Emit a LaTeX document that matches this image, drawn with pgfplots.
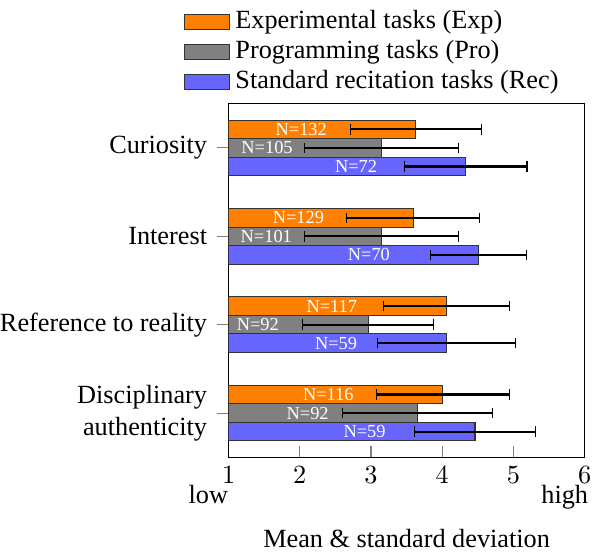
\documentclass[border=0pt]{standalone}
\usepackage{fontspec}
\setmainfont{Liberation Serif}
\usepackage{pgfplots}
\pgfplotsset{compat=1.18}
\usepackage{pgfplotstable}
\definecolor{cexp}{RGB}{255,128,0}
\definecolor{cpro}{RGB}{128,128,128}
\definecolor{crec}{RGB}{102,102,255}
% y: Curiosity=3, Interest=2, Reference to reality=1, Disciplinary authenticity=0
\pgfplotstableread{
y m s
3.21 3.63 0.92
2.21 3.59 0.93
1.21 4.06 0.88
0.21 4.01 0.93
}\exptab
\pgfplotstableread{
y m s
3 3.15 1.08
2 3.15 1.08
1 2.96 0.92
0 3.65 1.05
}\protab
\pgfplotstableread{
y m s
2.79 4.33 0.86
1.79 4.51 0.67
0.79 4.06 0.97
-0.21 4.46 0.85
}\rectab
\begin{document}
\begin{tikzpicture}
\begin{axis}[
  scale only axis,
  width=135.6pt, height=134.6pt,
  xmin=1, xmax=6, ymin=-0.5, ymax=3.5,
  xtick={1,2,3,4,5,6},
  ytick={0,1,2,3},
  yticklabels={{Disciplinary\\authenticity},Reference to reality,Interest,Curiosity},
  yticklabel style={align=right, inner sep=0pt, xshift=-8pt},
  tick align=inside,
  tick pos=left,
  tick style={gray, thin},
  y tick style={xshift=-4.25pt},
  xlabel={Mean \& standard deviation},
  xlabel style={at={(axis description cs:0.5,0)}, anchor=base, yshift=-34.3pt},
  bar width=0.21,
  legend cell align=left,
  legend style={draw=none, fill=none, at={(-0.148,1.0)}, anchor=south west, row sep=-1pt},
  area legend,
]
\addplot[xbar, bar shift=0, fill=cexp, draw=black!80,
  error bars/.cd, x dir=both, x explicit, error bar style={black, thick}]
  table[x=m, y=y, x error=s]{\exptab};
\addlegendentry{Experimental tasks (Exp)}
\addplot[xbar, bar shift=0, fill=cpro, draw=black!80,
  error bars/.cd, x dir=both, x explicit, error bar style={black, thick}]
  table[x=m, y=y, x error=s]{\protab};
\addlegendentry{Programming tasks (Pro)}
\addplot[xbar, bar shift=0, fill=crec, draw=black!80,
  error bars/.cd, x dir=both, x explicit, error bar style={black, thick}]
  table[x=m, y=y, x error=s]{\rectab};
\addlegendentry{Standard recitation tasks (Rec)}
\addplot[draw=none, mark=none, forget plot, nodes near coords, point meta=explicit symbolic,
  nodes near coords align=center,
  every node near coord/.style={text=white, font=\scriptsize, inner sep=0pt, anchor=center}]
  table[x=x, y=y, meta=t]{
x y t
2.02 3.21 N=132
1.98 2.21 N=129
2.45 1.21 N=117
2.40 0.21 N=116
1.54 3 N=105
1.53 2 N=101
1.41 1 N=92
2.11 0 N=92
2.79 2.79 N=72
2.97 1.79 N=70
2.51 0.79 N=59
2.91 -0.21 N=59
};
\coordinate (ll) at (rel axis cs:0,0);
\coordinate (lr) at (rel axis cs:1,0);
\end{axis}
\node[anchor=base east, inner sep=0pt, yshift=-17.5pt] at (ll) {low};
\node[anchor=base east, inner sep=0pt, yshift=-17.5pt, xshift=1.5pt] at (lr) {high};
\end{tikzpicture}
\end{document}
